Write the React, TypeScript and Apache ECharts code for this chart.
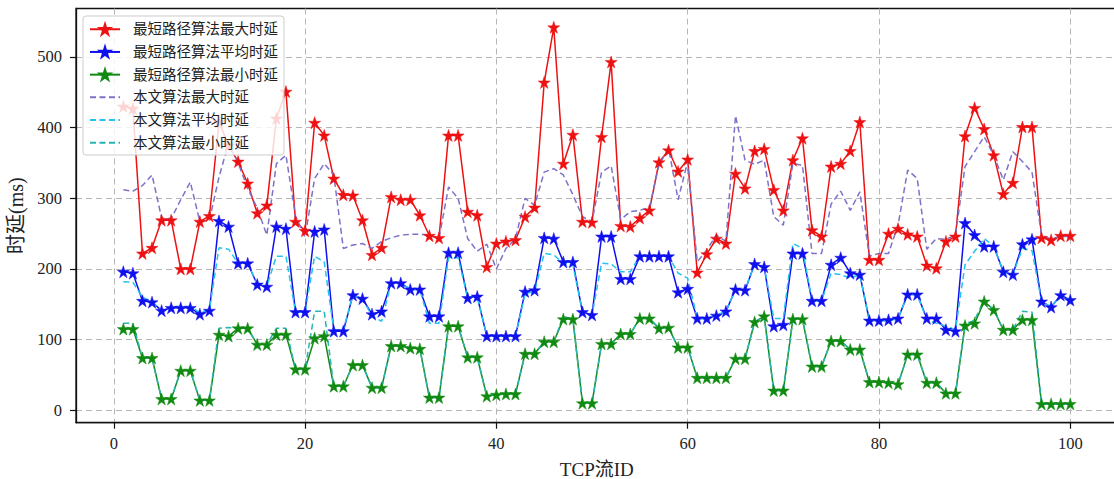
import React, { useEffect, useRef } from "react";
import * as echarts from "echarts";

const flowIds: number[] = Array.from({ length: 100 }, (_, i) => i + 1);

const spMax = [
  430, 427, 222, 230, 269, 269, 200, 200, 267, 275,
  408, 375, 352, 321, 279, 290, 413, 451, 267, 254,
  407, 389, 328, 305, 304, 269, 220, 230, 302, 298,
  298, 276, 247, 244, 389, 389, 281, 276, 203, 236,
  239, 241, 274, 287, 464, 542, 349, 390, 267, 266,
  387, 493, 261, 260, 272, 283, 351, 368, 338, 355,
  195, 221, 243, 236, 335, 314, 367, 370, 312, 283,
  354, 385, 255, 246, 345, 349, 367, 408, 213, 213,
  250, 257, 249, 246, 205, 201, 239, 246, 388, 428,
  398, 361, 306, 322, 401, 401, 244, 241, 247, 247,
];

const spAvg = [
  196, 194, 155, 153, 141, 145, 145, 145, 136, 141,
  268, 260, 208, 208, 178, 175, 260, 257, 139, 139,
  253, 256, 112, 112, 163, 158, 136, 140, 180, 180,
  171, 171, 133, 133, 223, 223, 159, 161, 105, 105,
  105, 105, 168, 170, 244, 243, 210, 210, 139, 135,
  246, 246, 186, 186, 218, 218, 218, 218, 167, 172,
  130, 130, 134, 140, 171, 170, 207, 203, 119, 121,
  222, 222, 155, 155, 206, 216, 194, 192, 127, 127,
  128, 130, 164, 164, 130, 130, 114, 112, 265, 248,
  232, 232, 196, 192, 235, 242, 154, 146, 163, 156,
];

const spMin = [
  115, 115, 74, 74, 16, 16, 56, 56, 14, 14,
  107, 105, 116, 116, 93, 93, 107, 107, 58, 58,
  102, 105, 34, 34, 64, 64, 32, 32, 91, 91,
  88, 87, 18, 18, 119, 119, 75, 75, 20, 22,
  23, 23, 80, 80, 97, 97, 129, 129, 10, 10,
  94, 94, 108, 108, 130, 130, 116, 117, 89, 89,
  46, 46, 46, 46, 73, 73, 125, 133, 28, 28,
  129, 129, 62, 62, 98, 98, 86, 86, 40, 40,
  39, 37, 79, 79, 39, 39, 24, 24, 120, 123,
  154, 142, 114, 114, 128, 128, 9, 9, 9, 9,
];

const ourMax = [
  312, 310, 318, 333, 272, 271, 298, 323, 267, 269,
  330, 378, 350, 314, 286, 248, 349, 361, 275, 245,
  328, 349, 333, 229, 234, 236, 229, 239, 244, 248,
  249, 249, 248, 243, 316, 300, 243, 225, 235, 200,
  229, 243, 300, 290, 337, 342, 333, 305, 274, 267,
  337, 346, 270, 281, 283, 287, 347, 371, 298, 352,
  210, 227, 248, 239, 417, 354, 348, 354, 274, 262,
  349, 347, 222, 222, 292, 310, 283, 309, 218, 222,
  222, 262, 340, 328, 228, 243, 242, 248, 345, 366,
  387, 361, 326, 366, 352, 337, 248, 242, 246, 246,
];

const ourAvg = [
  182, 181, 160, 153, 141, 147, 147, 147, 138, 143,
  230, 228, 208, 208, 178, 175, 218, 218, 139, 139,
  218, 210, 114, 114, 163, 158, 133, 126, 180, 180,
  171, 171, 123, 123, 216, 216, 159, 161, 105, 105,
  105, 105, 165, 168, 222, 220, 208, 206, 139, 135,
  208, 207, 196, 196, 218, 218, 218, 218, 194, 187,
  130, 130, 134, 140, 171, 170, 207, 203, 130, 130,
  236, 229, 155, 155, 194, 192, 187, 192, 127, 127,
  126, 130, 164, 164, 128, 123, 119, 114, 206, 225,
  243, 232, 196, 192, 229, 226, 154, 146, 163, 156,
];

const ourMin = [
  123, 123, 74, 74, 16, 16, 56, 56, 14, 14,
  116, 117, 116, 116, 93, 93, 116, 116, 58, 58,
  140, 140, 34, 34, 64, 64, 32, 32, 91, 91,
  88, 87, 18, 18, 119, 119, 75, 75, 20, 22,
  23, 23, 80, 80, 97, 97, 133, 129, 10, 10,
  94, 94, 108, 108, 130, 130, 116, 117, 89, 89,
  46, 46, 46, 46, 73, 73, 125, 133, 28, 28,
  129, 129, 62, 62, 98, 98, 86, 86, 40, 40,
  39, 37, 79, 79, 39, 39, 24, 24, 120, 128,
  156, 142, 114, 114, 140, 139, 9, 9, 9, 9,
];

const xTicks = [0, 20, 40, 60, 80, 100];
const yTicks = [0, 100, 200, 300, 400, 500];

const seriesNames = [
  "最短路径算法最大时延",
  "最短路径算法平均时延",
  "最短路径算法最小时延",
  "本文算法最大时延",
  "本文算法平均时延",
  "本文算法最小时延",
];

const STAR =
  "path://M50,0 L61.2,34.5 L97.6,34.5 L68.2,55.9 L79.4,90.5 L50,69.1 L20.6,90.5 L31.8,55.9 L2.4,34.5 L38.8,34.5 Z";

const SERIF = "'Liberation Serif', 'Noto Sans CJK SC', serif";

function pairs(vals: number[]) {
  return flowIds.map((id, i) => [id, vals[i]]);
}

export default function App() {
  const ref = useRef<HTMLDivElement>(null);
  useEffect(() => {
    if (!ref.current) return;
    const chart = echarts.init(ref.current, null, { renderer: "svg" });
    const solid = (name: string, vals: number[], color: string) => ({
      name,
      type: "line",
      data: pairs(vals),
      symbol: STAR,
      symbolSize: 12,
      showSymbol: true,
      lineStyle: { color, width: 1.5 },
      itemStyle: { color, borderColor: color, borderWidth: 0.5 },
      emphasis: { disabled: true },
    });
    const dashed = (name: string, vals: number[], color: string) => ({
      name,
      type: "line",
      data: pairs(vals),
      symbol: "none",
      showSymbol: false,
      lineStyle: { color, width: 1.5, type: [6, 3.5] },
      itemStyle: { color },
      emphasis: { disabled: true },
    });
    chart.setOption({
      animation: false,
      backgroundColor: "#ffffff",
      grid: {
        left: 76,
        top: 8.5,
        width: 1041.6,
        height: 414.2,
        show: true,
        borderColor: "#111",
        borderWidth: 1.3,
        backgroundColor: "transparent",
        containLabel: false,
        outerBoundsMode: "none",
      },
      legend: {
        orient: "vertical",
        left: 83,
        top: 16,
        padding: [6, 6, 5, 6],
        itemGap: 8.2,
        itemWidth: 30,
        itemHeight: 13,
        backgroundColor: "rgba(255,255,255,0.82)",
        borderColor: "#cccccc",
        borderWidth: 1,
        borderRadius: 3,
        textStyle: {
          fontFamily: SERIF,
          fontSize: 14.5,
          color: "#222",
          padding: [0, 0, 0, 8],
        },
        data: [
          { name: seriesNames[0] },
          { name: seriesNames[1] },
          { name: seriesNames[2] },
          { name: seriesNames[3], itemStyle: { opacity: 0 } },
          { name: seriesNames[4], itemStyle: { opacity: 0 } },
          { name: seriesNames[5], itemStyle: { opacity: 0 } },
        ],
      },
      xAxis: {
        type: "value",
        min: -3.95,
        max: 104.95,
        name: "TCP流ID",
        nameLocation: "middle",
        nameGap: 37,
        nameTextStyle: { fontFamily: SERIF, fontSize: 19, color: "#222" },
        axisLine: { show: true, onZero: false, lineStyle: { color: "#111", width: 1.3 } },
        axisTick: { show: true, length: 6, customValues: xTicks, lineStyle: { color: "#111", width: 1.2 } },
        axisLabel: {
          customValues: xTicks,
          margin: 13,
          fontFamily: SERIF,
          fontSize: 16.5,
          color: "#222",
        },
        splitLine: { show: true, lineStyle: { color: "#b5b5b5", width: 1, type: [6, 4] } },
      },
      yAxis: {
        type: "value",
        min: -17.6,
        max: 568.6,
        name: "时延(ms)",
        nameLocation: "middle",
        nameGap: 46,
        nameRotate: 90,
        nameTextStyle: { fontFamily: SERIF, fontSize: 20, color: "#222" },
        axisLine: { show: true, onZero: false, lineStyle: { color: "#111", width: 1.3 } },
        axisTick: { show: true, length: 6, customValues: yTicks, lineStyle: { color: "#111", width: 1.2 } },
        axisLabel: {
          customValues: yTicks,
          margin: 14,
          fontFamily: SERIF,
          fontSize: 16.5,
          color: "#222",
        },
        splitLine: { show: true, lineStyle: { color: "#b5b5b5", width: 1, type: [6, 4] } },
      },
      series: [
        solid(seriesNames[0], spMax, "#ee1111"),
        solid(seriesNames[1], spAvg, "#1010ee"),
        solid(seriesNames[2], spMin, "#118a11"),
        dashed(seriesNames[3], ourMax, "#7d72c8"),
        dashed(seriesNames[4], ourAvg, "#22c3ee"),
        dashed(seriesNames[5], ourMin, "#27b5b0"),
      ],
    });
    return () => chart.dispose();
  }, []);
  return (
    <div
      ref={ref}
      style={{ position: "absolute", left: 0, top: 0, width: 1114, height: 479 }}
    />
  );
}
